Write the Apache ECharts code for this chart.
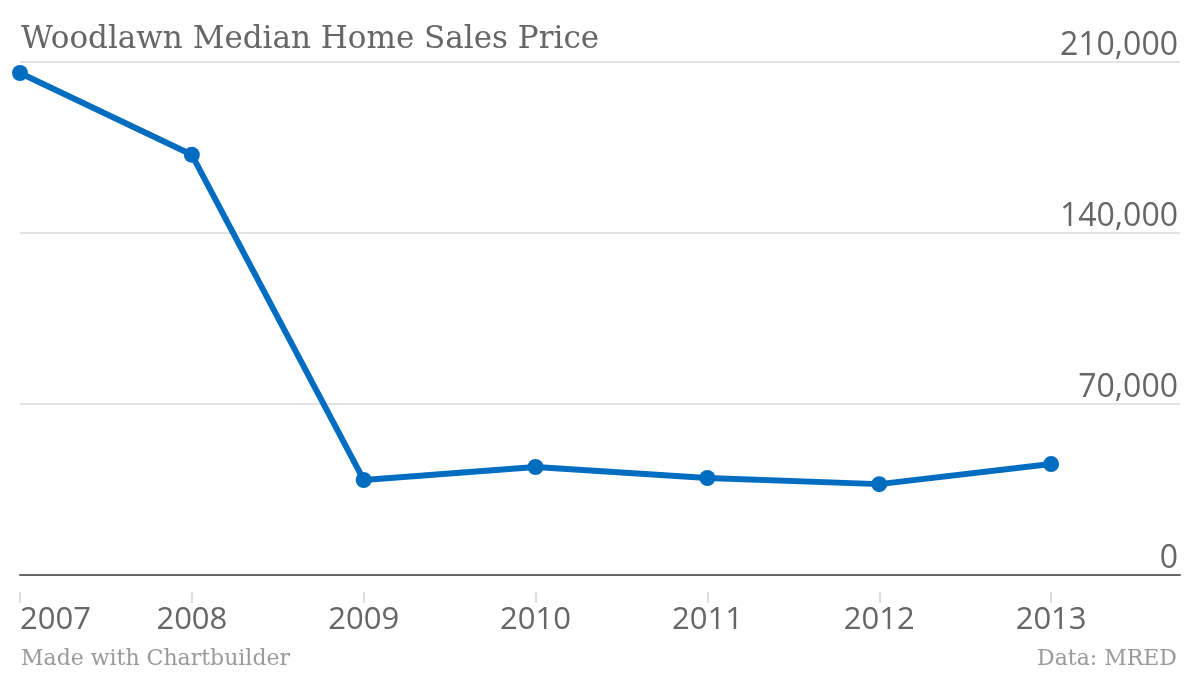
<!DOCTYPE html>
<html>
<head>
<meta charset="utf-8">
<script src="https://cdn.jsdelivr.net/npm/echarts@6/dist/echarts.min.js"></script>
<style>
html,body{margin:0;padding:0;background:#fff;}
#chart{width:1200px;height:676px;}
</style>
</head>
<body>
<div id="chart"></div>
<script>
var titleText = 'Woodlawn Median Home Sales Price';
var creditText = 'Made with Chartbuilder';
var sourceText = 'Data: MRED';
var years = [2007, 2008, 2009, 2010, 2011, 2012, 2013];
var medianPrice = [205500, 172000, 38900, 44200, 39700, 37200, 45400];
var yTicks = [0, 70000, 140000, 210000];

var chart = echarts.init(document.getElementById('chart'));
var seriesData = years.map(function (y, i) { return [y, medianPrice[i]]; });
var xMin = years[0];
var xMax = years[years.length - 1] + 0.75;

function fmt(v) { return String(v).replace(/\B(?=(\d{3})+(?!\d))/g, ','); }

var axisFont = "'Open Sans', 'DejaVu Sans', sans-serif";
var serifFont = "'DejaVu Serif', serif";

chart.setOption({
  animation: false,
  backgroundColor: '#ffffff',
  title: [
    { text: titleText, left: 16, top: 19, textStyle: { fontFamily: serifFont, fontSize: 31, fontWeight: 'normal', color: '#666666' } },
    { text: creditText, left: 16, top: 643, textStyle: { fontFamily: serifFont, fontSize: 22, fontWeight: 'normal', color: '#9a9a9a' } },
    { text: sourceText, right: 18, top: 643, textStyle: { fontFamily: serifFont, fontSize: 22, fontWeight: 'normal', color: '#9a9a9a' } }
  ],
  grid: { left: 20, right: 20, top: 62, bottom: 101, containLabel: false },
  xAxis: [
    {
      type: 'value', min: xMin, max: xMax, position: 'bottom',
      axisLine: { show: true, lineStyle: { color: '#666666', width: 2 } },
      axisTick: { show: false }, axisLabel: { show: false }, splitLine: { show: false }
    },
    {
      type: 'value', min: xMin, max: xMax, position: 'bottom', offset: 17,
      axisLine: { show: false },
      axisTick: { show: true, customValues: years, length: 11, lineStyle: { color: '#dddddd', width: 2 } },
      axisLabel: {
        show: true, customValues: years, margin: 13, alignMinLabel: 'left',
        fontFamily: axisFont, fontSize: 31, color: '#666666',
        formatter: function (v) { return String(v); }
      },
      splitLine: { show: false }
    }
  ],
  yAxis: {
    type: 'value', position: 'right', min: yTicks[0], max: yTicks[yTicks.length - 1], interval: yTicks[1] - yTicks[0],
    axisLine: { show: false }, axisTick: { show: false },
    splitLine: { show: true, lineStyle: { color: '#e2e2e2', width: 2 } },
    axisLabel: {
      inside: true, margin: 2, verticalAlign: 'bottom',
      fontFamily: axisFont, fontSize: 32, color: '#666666',
      formatter: function (v) { return fmt(v); }
    }
  },
  series: [{
    type: 'line', xAxisIndex: 0, data: seriesData,
    symbol: 'circle', symbolSize: 16, showAllSymbol: true,
    lineStyle: { color: '#006dc1', width: 6 },
    itemStyle: { color: '#006dc1' },
    z: 5
  }]
});
</script>
</body>
</html>
